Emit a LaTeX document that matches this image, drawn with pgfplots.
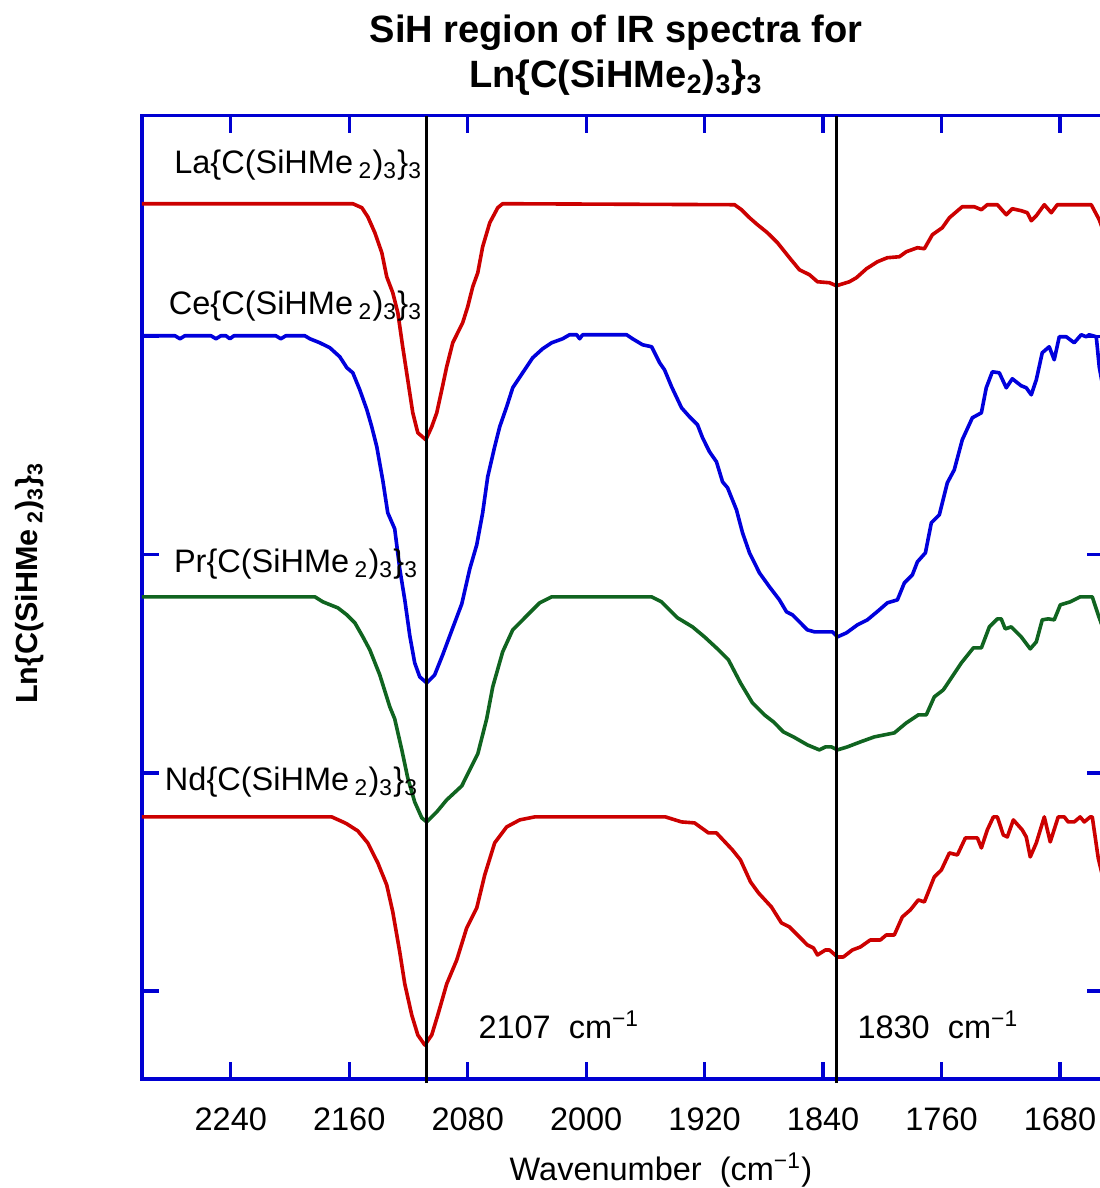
\documentclass[border=0pt]{standalone}
\usepackage{pgfplots}
\pgfplotsset{compat=1.18}
\usepackage{fontspec}
\setmainfont{Liberation Sans}
\definecolor{cred}{RGB}{204,0,0}
\definecolor{cblue}{RGB}{0,0,220}
\definecolor{cgreen}{RGB}{16,100,32}
\definecolor{axblue}{RGB}{0,0,210}
\newcommand\sub[1]{\textsubscript{#1}}
\newcommand\lnlabel[1]{#1\{C(SiHMe\,\sub{2})\sub{3}\}\sub{3}}
\begin{document}
\begin{tikzpicture}
\begin{axis}[
  name=ax, clip=false,
  scale only axis, width=346.5pt, height=346.8pt,
  x dir=reverse, xmin=1650, xmax=2300, ymin=0, ymax=963,
  xtick={1680,1760,1840,1920,2000,2080,2160,2240},
  ytick={88,306,524,742}, yticklabels={},
  tick align=inside, xtick pos=both, ytick pos=both,
  major tick length=6.1pt,
  axis line style={draw=axblue, line width=1.15pt},
  every tick/.style={draw=axblue, line width=1.15pt},
  tick label style={font=\fontsize{11.7}{14}\selectfont},
  xticklabel style={yshift=-7pt},
  /pgf/number format/assume math mode=true,
  /pgf/number format/1000 sep={},
  every axis plot/.append style={line width=1.3pt, line join=round},
]
% La
\addplot[cred] coordinates {
(2300,875)(2157.6,875)(2151.5,871)(2147.5,862)(2142.7,846)(2138.0,826)(2134.7,802)(2130.6,786)(2127.2,766)(2123.9,732)(2120.5,699)(2117.1,666)(2113.7,646)(2109.0,640)(2108.3,639)(2104.3,652)(2100.9,666)(2097.5,689)(2094.2,712)(2090.1,736)(2083.4,756)(2080.0,772)(2076.6,792)(2073.2,806)(2069.9,832)(2065.1,856)(2059.7,871)(2056.4,875)
(1899.8,874)(1895.1,869)(1889.7,861)(1884.3,854)(1877.6,846)(1870.8,836)(1862.7,821)(1856.0,809)(1849.2,804)(1843.8,797)(1835.7,796)(1831.0,793)(1822.2,797)(1817.5,801)(1810.7,810)(1803.3,817)(1796.6,821)(1788.5,822)(1783.8,827)(1776.3,831)(1771.6,830)(1766.2,844)(1759.5,851)(1754.7,861)(1746.0,872)(1737.9,872)(1733.1,869)(1729.1,874)(1722.3,874)(1716.3,864)(1712.2,870)(1706.2,868)(1702.1,866)(1699.4,858)(1696.0,863)(1690.6,874)(1685.9,866)(1681.8,874)(1658.9,874)(1653.5,859)(1650.8,848)
};
% Ce
\addplot[cblue] coordinates {
(2300,743)(2277.7,743)(2274.3,740)(2271.0,743)(2253.4,743)(2250.0,740)(2246.7,743)(2243.3,743)(2240.6,740)(2237.9,743)(2209.6,743)(2206.2,740)(2202.8,743)(2190.0,743)(2186.6,740)(2179.9,736)(2173.1,731)(2166.4,722)(2161.6,711)(2157.6,706)(2152.9,689)(2148.1,669)(2144.8,652)(2141.4,632)(2137.3,598)(2134.0,566)(2129.3,550)(2125.9,510)(2122.5,479)(2119.1,443)(2115.8,416)(2112.4,402)(2107.7,396)(2102.3,404)(2096.9,424)(2090.1,451)(2084.0,475)(2078.6,510)(2073.9,534)(2069.9,566)(2066.5,602)(2061.8,632)(2058.4,652)(2053.7,672)(2049.6,691)(2042.9,706)(2036.1,721)(2029.4,730)(2023.3,736)(2015.9,740)(2011.2,744)(2006.4,744)(2004.4,740)(2002.4,744)(1972.7,744)(1968.7,740)(1961.9,734)(1955.8,732)(1950.4,716)(1947.1,709)(1942.3,692)(1935.6,671)(1930.2,662)(1924.8,654)(1921.4,641)(1916.7,627)(1912.0,617)(1907.9,597)(1904.5,591)(1898.5,569)(1894.4,546)(1889.7,526)(1883.0,506)(1876.2,492)(1869.5,479)(1864.7,467)(1860.7,464)(1850.6,449)(1845.8,447)(1833.7,447)(1830.3,442)(1824.2,446)(1816.8,454)(1810.1,459)(1802.0,469)(1796.6,476)(1789.8,479)(1785.1,496)(1779.7,504)(1776.3,517)(1770.9,526)(1766.9,556)(1761.5,564)(1756.1,596)(1751.4,609)(1746.0,639)(1739.2,661)(1733.1,666)(1729.8,691)(1725.7,707)(1721.0,706)(1716.3,691)(1712.2,700)(1706.2,693)(1702.8,691)(1699.4,684)(1696.0,699)(1692.0,726)(1687.3,732)(1683.9,719)(1680.5,742)(1675.8,742)(1670.4,736)(1665.7,744)(1662.3,742)(1660.3,744)(1655.5,742)(1653.5,712)(1650.8,690)
};
% Pr
\addplot[cgreen] coordinates {
(2300,482)(2183.2,482)(2177.8,477)(2171.1,473)(2167.7,471)(2161.6,464)(2156.2,456)(2150.8,442)(2146.1,429)(2139.4,404)(2132.6,372)(2129.3,360)(2124.5,329)(2120.5,301)(2115.8,277)(2111.0,261)(2107.7,257)(2100.9,267)(2094.2,279)(2084.0,293)(2077.3,313)(2073.2,325)(2067.2,360)(2063.1,392)(2056.4,427)(2049.6,449)(2044.2,457)(2037.5,467)(2031.4,476)(2023.3,482)(1955.8,482)(1949.1,477)(1938.3,461)(1928.2,452)(1920.1,442)(1910.6,429)(1903.9,419)(1895.8,396)(1887.7,376)(1879.6,364)(1873.5,357)(1866.8,347)(1860.0,342)(1850.6,334)(1842.5,329)(1838.4,332)(1834.4,332)(1830.3,329)(1823.6,332)(1814.8,337)(1805.4,342)(1791.9,346)(1783.8,356)(1775.7,364)(1770.3,364)(1764.9,382)(1758.8,389)(1752.0,404)(1746.6,416)(1738.5,431)(1733.1,431)(1727.7,452)(1722.3,460)(1719.7,460)(1717.0,450)(1712.9,452)(1706.2,442)(1700.1,430)(1696.0,437)(1692.0,459)(1687.9,460)(1683.9,459)(1679.8,474)(1673.1,477)(1666.4,482)(1658.2,482)(1654.2,464)(1650.8,450)
};
% Nd
\addplot[cred] coordinates {
(2300,262)(2171.8,262)(2164.3,257)(2161.6,255)(2154.2,248)(2147.5,236)(2140.7,216)(2134.7,194)(2130.6,167)(2125.9,127)(2122.5,95)(2117.8,64)(2113.7,44)(2109.0,34)(2104.3,44)(2100.2,64)(2094.2,95)(2087.4,119)(2080.7,151)(2073.9,171)(2068.5,204)(2061.8,236)(2053.7,252)(2044.9,259)(2034.8,262)(1946.4,262)(1935.6,257)(1926.8,256)(1917.4,246)(1912.0,246)(1901.2,229)(1895.8,219)(1889.0,197)(1883.6,186)(1874.9,172)(1868.1,156)(1862.7,152)(1850.6,134)(1846.5,131)(1843.8,124)(1838.4,129)(1835.7,129)(1830.3,122)(1826.3,122)(1820.2,129)(1814.8,132)(1808.1,139)(1801.3,139)(1797.3,144)(1791.9,144)(1786.5,162)(1781.1,169)(1775.7,179)(1771.6,177)(1764.9,202)(1760.1,209)(1754.7,226)(1749.3,224)(1743.9,241)(1735.8,241)(1733.1,231)(1729.1,249)(1725.0,262)(1722.3,262)(1718.3,244)(1715.6,242)(1711.5,259)(1705.5,249)(1702.8,242)(1700.1,222)(1696.0,236)(1690.6,262)(1686.6,237)(1681.2,262)(1677.1,262)(1674.5,257)(1670.4,257)(1666.4,262)(1663.6,257)(1659.6,262)(1658.2,262)(1654.2,221)(1650.8,200)
};
% reference lines
\addplot[black, line width=0.9pt] coordinates {(2108,-4)(2108,963)};
\addplot[black, line width=0.9pt] coordinates {(1831,-4)(1831,963)};
% labels
\begin{scope}[every node/.style={font=\fontsize{11.7}{14}\selectfont, inner sep=0pt}]
\node[anchor=base east] at (rel axis cs:0.2919,0.9395) {\lnlabel{La}};
\node[anchor=base east] at (rel axis cs:0.2919,0.7931) {\lnlabel{Ce}};
\node[anchor=base east] at (rel axis cs:0.2878,0.5263) {\lnlabel{Pr}};
\node[anchor=base east] at (rel axis cs:0.2878,0.3000) {\lnlabel{Nd}};
\node[anchor=west] at (rel axis cs:0.3491,0.0561) {2107\ \ cm\textsuperscript{−1}};
\node[anchor=west] at (rel axis cs:0.7429,0.0561) {1830\ \ cm\textsuperscript{−1}};
\node[anchor=center] at (rel axis cs:0.5392,-0.0945) {Wavenumber\ \ (cm\textsuperscript{−1})};
\end{scope}
\node[font=\fontsize{13.7}{16}\selectfont\bfseries, anchor=center] at (rel axis cs:0.4925,1.0858) {SiH region of IR spectra for};
\node[font=\fontsize{13.7}{16}\selectfont\bfseries, anchor=center] at (rel axis cs:0.4925,1.0395) {Ln\{C(SiHMe\sub{2})\sub{3}\}\sub{3}};
\node[font=\fontsize{11}{13}\selectfont\bfseries, rotate=90, anchor=center] at (rel axis cs:-0.1164,0.5149) {\lnlabel{Ln}};
\coordinate (BL) at (rel axis cs:-0.1475,-0.11315);
\coordinate (TR) at (rel axis cs:0.99532,1.12011);
\end{axis}
\pgfresetboundingbox
\path[use as bounding box] (BL) rectangle (TR);
\end{tikzpicture}
\end{document}
